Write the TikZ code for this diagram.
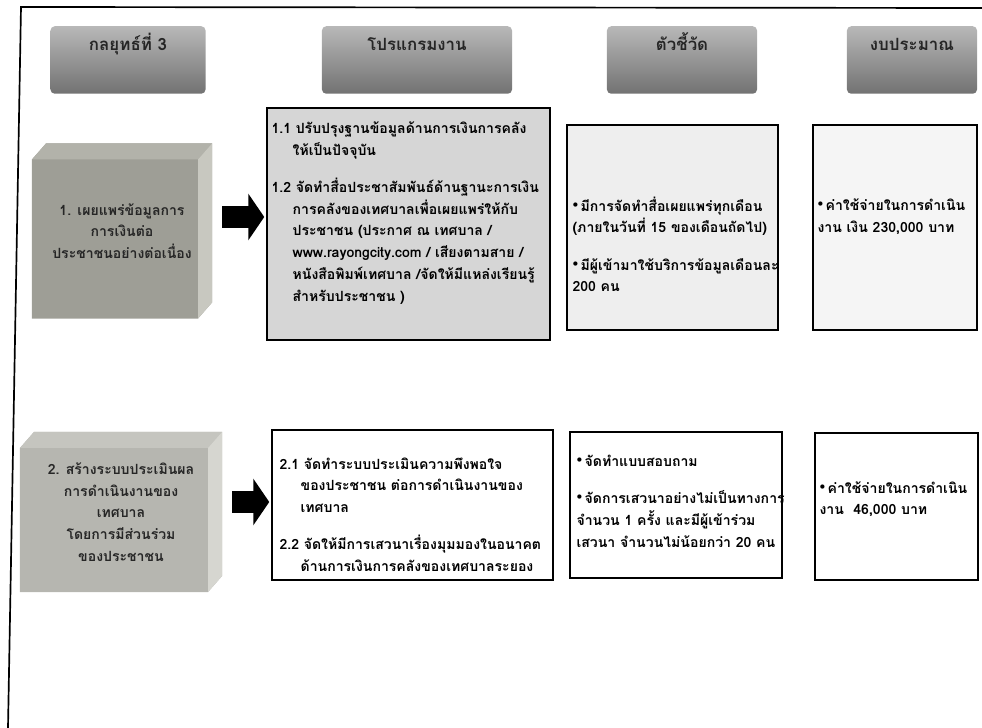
\documentclass[tikz,border=0pt]{standalone}
\usepackage{fontspec}
\newfontfamily\thaifont[Script=Thai]{Loma}
\usepackage{xcolor}
\definecolor{colHeadTop}{HTML}{B8B8B8}
\definecolor{colHeadBot}{HTML}{727272}
\definecolor{colCube}{HTML}{9E9E96}
\definecolor{colCubeTop}{HTML}{B2B2AA}
\definecolor{colCubeSide}{HTML}{C8C8C0}
\definecolor{colText}{HTML}{262626}
\definecolor{colPaper}{HTML}{D6D6D6}
\definecolor{colPaperLight}{HTML}{EEEEEE}
\usetikzlibrary{arrows.meta, positioning, calc}

\tikzset{
  headbox/.style={rounded corners=3pt, top color=colHeadTop, bottom color=colHeadBot,
    inner xsep=0pt, inner ysep=0pt, text height=17pt, text depth=31pt,
    font=\thaifont\bfseries\fontsize{12}{14}\selectfont, text=colText},
  cubebox/.style={inner sep=0pt, align=center, text=colText,
    font=\thaifont\bfseries\fontsize{10}{15.5}\selectfont,
    path picture={
      \coordinate (pnw) at (path picture bounding box.north west);
      \coordinate (pne) at (path picture bounding box.north east);
      \coordinate (pse) at (path picture bounding box.south east);
      \coordinate (psw) at (path picture bounding box.south west);
      \fill[colCube!#1] (psw) -- ($(pnw)+(0,16)$) -- ($(pnw)+(14,0)$) -- (pne)
        -- ($(pse)+(0,-16)$) -- ($(pse)+(-14,0)$) -- cycle;
      \fill[colCubeTop!#1] ($(pnw)+(0,16)$) -- ($(pnw)+(14,0)$) -- (pne) -- ($(pne)+(-14,16)$) -- cycle;
      \fill[colCubeSide!#1] ($(pne)+(-14,16)$) -- (pne) -- ($(pse)+(0,-16)$) -- ($(pse)+(-14,0)$) -- cycle;
    }},
  cell/.style={draw=black, line width=1pt, inner sep=0pt},
  txt/.style={inner sep=0pt, align=left, text=black,
    font=\thaifont\bfseries\fontsize{10}{15.5}\selectfont},
  bigarrow/.style={line width=0.55cm, -{Triangle[length=0.4cm, width=1.15cm]},
    shorten <=0.25cm, shorten >=0.05cm},
}
\newcommand{\dotmark}{\raisebox{2.5pt}{\scriptsize$\bullet$}\,}

\begin{document}
\begin{tikzpicture}[x=0.025cm, y=-0.025cm]
  \useasboundingbox (0,0) rectangle (982,728);
  % Page frame
  \draw[line width=1.2pt] (982,8) -- (21,7) -- (8,728);

  % Column heads
  \node[headbox, minimum width=3.875cm] (hdStrat) at (128,60) {กลยุทธ์ที่ 3};
  \node[headbox, minimum width=4.75cm] (hdProg) at (417,60) {โปรแกรมงาน};
  \node[headbox, minimum width=3.75cm] (hdKpi) at (682,60) {ตัวชี้วัด};
  \node[headbox, minimum width=3.25cm] (hdBudget) at (912,60) {งบประมาณ};

  % Row 1
  \node[cubebox=100, minimum width=4.5cm, minimum height=4.375cm] (cube1) at (122,231)
    {1. เผยแพร่ข้อมูลการ\\การเงินต่อ\\ประชาชนอย่างต่อเนื่อง};
  \node[cell, fill=colPaper, minimum width=7.075cm, minimum height=5.8cm] (prog1) at (408.5,224) {};
  \node[cell, fill=colPaperLight, minimum width=5.275cm, minimum height=5.125cm] (kpi1) at (672.5,227.5) {};
  \node[cell, fill=colPaperLight!60!white, minimum width=4.1cm, minimum height=5.125cm] (budget1) at (895,227.5) {};
  \node[txt, below right=0.35cm and 0.125cm of prog1.north west] (prog1t)
    {1.1 ปรับปรุงฐานข้อมูลด้านการเงินการคลัง\\
     \hspace*{1.5em}ให้เป็นปัจจุบัน\\[11pt]
     1.2 จัดทำสื่อประชาสัมพันธ์ด้านฐานะการเงิน\\
     \hspace*{1.5em}การคลังของเทศบาลเพื่อเผยแพร่ให้กับ\\
     \hspace*{1.5em}ประชาชน (ประกาศ ณ เทศบาล /\\
     \hspace*{1.5em}www.rayongcity.com / เสียงตามสาย /\\
     \hspace*{1.5em}หนังสือพิมพ์เทศบาล /จัดให้มีแหล่งเรียนรู้\\
     \hspace*{1.5em}สำหรับประชาชน )};
  \node[txt, below right=1.8cm and 0.15cm of kpi1.north west] (kpi1t)
    {\dotmark มีการจัดทำสื่อเผยแพร่ทุกเดือน\\
     (ภายในวันที่ 15 ของเดือนถัดไป)\\[11pt]
     \dotmark มีผู้เข้ามาใช้บริการข้อมูลเดือนละ\\
     200 คน};
  \node[txt, below right=1.85cm and 0.125cm of budget1.north west] (budget1t)
    {\dotmark ค่าใช้จ่ายในการดำเนิน\\
     งาน เงิน 230,000 บาท};
  \draw[bigarrow] ([yshift=0.35cm]cube1.east) -- ([yshift=0.35cm]cube1.east -| prog1.west);

  % Row 2
  \node[cubebox=75, minimum width=5.05cm, minimum height=4cm] (cube2) at (121,512)
    {2. สร้างระบบประเมินผล\\การดำเนินงานของ\\เทศบาล\\โดยการมีส่วนร่วม\\ของประชาชน};
  \node[cell, fill=white, minimum width=7.025cm, minimum height=3.75cm] (prog2) at (412.5,505) {};
  \node[cell, fill=white, minimum width=5.3cm, minimum height=3.65cm] (kpi2) at (676,505) {};
  \node[cell, fill=white, minimum width=4.075cm, minimum height=3.675cm] (budget2) at (896.5,506.5) {};
  \node[txt, below right=0.7cm and 0.2cm of prog2.north west] (prog2t)
    {2.1 จัดทำระบบประเมินความพึงพอใจ\\
     \hspace*{1.5em}ของประชาชน ต่อการดำเนินงานของ\\
     \hspace*{1.5em}เทศบาล\\[11pt]
     2.2 จัดให้มีการเสวนาเรื่องมุมมองในอนาคต\\
     \hspace*{1.5em}ด้านการเงินการคลังของเทศบาลระยอง};
  \node[txt, below right=0.58cm and 0.175cm of kpi2.north west] (kpi2t)
    {\dotmark จัดทำแบบสอบถาม\\[11pt]
     \dotmark จัดการเสวนาอย่างไม่เป็นทางการ\\
     จำนวน 1 ครั้ง และมีผู้เข้าร่วม\\
     เสวนา จำนวนไม่น้อยกว่า 20 คน};
  \node[txt, below right=1.22cm and 0.125cm of budget2.north west] (budget2t)
    {\dotmark ค่าใช้จ่ายในการดำเนิน\\
     งาน \ 46,000 บาท};
  \draw[bigarrow] ([yshift=0.25cm]cube2.east) -- ([yshift=0.25cm]cube2.east -| prog2.west);
\end{tikzpicture}
\end{document}
